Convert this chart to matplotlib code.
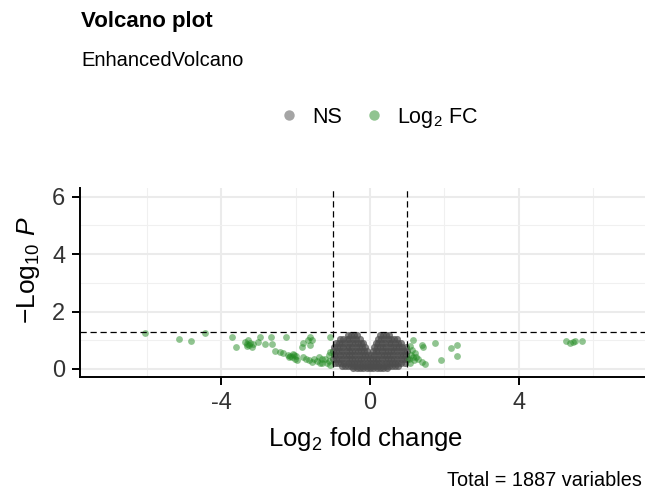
import matplotlib

matplotlib.use("Agg")
import matplotlib.pyplot as plt
from matplotlib.lines import Line2D
from matplotlib.ticker import MultipleLocator

plt.rcParams.update(
    {
        "font.family": ["Liberation Sans", "DejaVu Sans"],
        "mathtext.fontset": "custom",
        "mathtext.rm": "Liberation Sans",
        "mathtext.it": "Liberation Sans:italic",
        "mathtext.bf": "Liberation Sans:bold",
    }
)

# non-significant cloud (y level -> x positions)
ns_row_y = [1.17, 1.05, 0.92, 0.78, 0.64, 0.50, 0.36, 0.22, 0.10, 0.02]
ns_row_x = [
    [-0.58, -0.50, -0.42, -0.35, 0.28, 0.35, 0.43, 0.51],
    [-0.80, -0.72, -0.63, -0.55, -0.46, -0.37, -0.28, 0.21, 0.30, 0.39, 0.48, 0.57, 0.66, 0.74],
    [-0.92, -0.84, -0.75, -0.66, -0.57, -0.49, -0.41, -0.33, -0.25, -0.18,
     0.15, 0.23, 0.32, 0.41, 0.50, 0.58, 0.67, 0.75, 0.84],
    [-0.98, -0.89, -0.80, -0.72, -0.63, -0.55, -0.47, -0.38, -0.30, -0.22, -0.13,
     0.10, 0.19, 0.27, 0.36, 0.44, 0.53, 0.61, 0.70, 0.78, 0.87, 0.96],
    [-0.99, -0.91, -0.82, -0.74, -0.65, -0.57, -0.48, -0.40, -0.31, -0.23, -0.15, -0.07,
     0.07, 0.15, 0.23, 0.32, 0.40, 0.49, 0.57, 0.66, 0.74, 0.83, 0.91, 0.99],
    [-0.98, -0.90, -0.81, -0.73, -0.64, -0.56, -0.47, -0.39, -0.30, -0.22, -0.13, -0.05,
     0.04, 0.12, 0.21, 0.29, 0.38, 0.46, 0.55, 0.63, 0.72, 0.80, 0.89, 0.97],
    [-0.99, -0.91, -0.82, -0.74, -0.65, -0.57, -0.48, -0.40, -0.31, -0.23, -0.15, -0.07, 0.0,
     0.07, 0.15, 0.23, 0.32, 0.40, 0.49, 0.57, 0.66, 0.74, 0.83, 0.91, 0.99],
    [-0.94, -0.86, -0.77, -0.69, -0.60, -0.52, -0.43, -0.35, -0.26, -0.18, -0.09, -0.01,
     0.08, 0.16, 0.25, 0.33, 0.42, 0.50, 0.59, 0.67, 0.76, 0.84, 0.93],
    [-0.76, -0.68, -0.59, -0.51, -0.42, -0.34, -0.25, -0.17, -0.08, 0.0,
     0.08, 0.17, 0.25, 0.34, 0.42, 0.51, 0.59, 0.68, 0.76],
    [-0.45, -0.36, -0.27, -0.18, -0.09, 0.0, 0.09, 0.18, 0.27, 0.36, 0.45],
]

# points passing the fold-change cut-off only
fc_x = [
    -6.04, -5.14, -4.81, -4.43, -3.71, -3.60,
    -3.36, -3.32, -3.28, -3.25, -3.22, -3.18, -3.15, -3.30,
    -2.95, -3.00, -2.82, -2.66, -2.64, -2.55, -2.42, -2.33, -2.25,
    -2.20, -2.14, -2.10, -2.05, -2.02, -2.17, -1.96, -2.08, -2.00,
    -1.83, -1.79, -1.61, -1.57, -1.61, -1.66,
    -1.80, -1.72, -1.65, -1.57, -1.50, -1.42, -1.35, -1.28, -1.30, -1.20, -1.38,
    -1.15, -1.10, -1.07, -1.07, -1.07, -1.10,
    1.16, 1.08, 1.12, 1.10, 1.15, 1.20, 1.18, 1.25, 1.30, 1.05, 1.08,
    1.39, 1.43, 1.74, 1.48, 1.39, 1.92, 2.17, 2.35, 2.35,
    5.28, 5.37, 5.45, 5.53, 5.71,
]
fc_y = [
    1.24, 1.05, 0.97, 1.24, 1.11, 0.77,
    0.95, 0.80, 1.00, 0.85, 0.92, 0.78, 0.88, 0.86,
    1.11, 0.94, 0.88, 1.11, 0.88, 0.62, 0.59, 0.57, 1.11,
    0.50, 0.45, 0.40, 0.48, 0.35, 0.42, 0.32, 0.52, 0.44,
    0.77, 0.90, 1.11, 1.00, 0.83, 1.00,
    0.40, 0.35, 0.30, 0.25, 0.33, 0.28, 0.22, 0.22, 0.35, 0.36, 0.40,
    0.20, 0.28, 0.15, 1.11, 0.59, 0.50,
    1.00, 0.80, 0.65, 0.50, 0.40, 0.55, 0.30, 0.43, 0.35, 0.35, 0.20,
    0.83, 0.77, 0.90, 0.18, 0.23, 0.30, 0.73, 0.85, 0.44,
    0.97, 0.89, 0.94, 0.97, 0.97,
]

p_cutoff = 1.30
fc_cutoff = 1.0

ns_x = [x for row in ns_row_x for x in row]
ns_y = [y for y, row in zip(ns_row_y, ns_row_x) for _ in row]

fig = plt.figure(figsize=(6.45, 4.92), dpi=100)
ax = fig.add_axes([80 / 645, 115 / 492, 565 / 645, 189 / 492])

grey = "#4D4D4D"
green = "#228B22"
# the real cloud holds ~1800 overlapping points, so it renders nearly opaque
ax.scatter(ns_x, ns_y, s=26, color=grey, alpha=0.72, linewidths=0, zorder=3)
ax.scatter(fc_x, fc_y, s=24, color=green, alpha=0.5, linewidths=0, zorder=3)

ax.axhline(p_cutoff, color="black", lw=0.9, ls=(0, (5, 3)), zorder=4)
ax.axvline(-fc_cutoff, color="black", lw=0.9, ls=(0, (5, 3)), zorder=4)
ax.axvline(fc_cutoff, color="black", lw=0.9, ls=(0, (5, 3)), zorder=4)

ax.set_xlim(-7.8, 7.4)
ax.set_ylim(-0.28, 6.3)
ax.xaxis.set_major_locator(MultipleLocator(4))
ax.xaxis.set_minor_locator(MultipleLocator(2))
ax.yaxis.set_major_locator(MultipleLocator(2))
ax.yaxis.set_minor_locator(MultipleLocator(1))
ax.grid(True, which="major", color="#EBEBEB", lw=1.5, zorder=0)
ax.grid(True, which="minor", color="#F0F0F0", lw=0.8, zorder=0)
ax.set_axisbelow(True)

for side in ("top", "right"):
    ax.spines[side].set_visible(False)
for side in ("left", "bottom"):
    ax.spines[side].set_linewidth(1.4)
ax.tick_params(which="major", length=5.5, width=1.4, color="black",
               labelsize=17, labelcolor="#333333", pad=5)
ax.tick_params(which="minor", length=0)
ax.set_xticks([-4, 0, 4], ["-4", "0", "4"])

fig.text(366 / 645, 1 - 439 / 492, r"$\mathrm{Log}_{2}$ fold change",
         ha="center", va="center", fontsize=18.5)
fig.text(28 / 645, 1 - 270 / 492, r"$-\mathrm{Log}_{10}\ \mathit{P}$",
         ha="center", va="center", rotation=90, fontsize=19)

fig.text(81 / 645, 1 - 21 / 492, "Volcano plot", ha="left", va="center",
         fontsize=16, fontweight="bold")
fig.text(81 / 645, 1 - 60 / 492, "EnhancedVolcano", ha="left", va="center",
         fontsize=14.5)
fig.text(642 / 645, 1 - 480 / 492, "Total = 1887 variables", ha="right",
         va="center", fontsize=14.3)

handles = [
    Line2D([], [], ls="", marker="o", ms=7.5, mew=0, color=grey, alpha=0.5),
    Line2D([], [], ls="", marker="o", ms=7.5, mew=0, color=green, alpha=0.5),
]
fig.legend(handles, ["NS", r"$\mathrm{Log}_{2}$ FC"], ncol=2, frameon=False,
           loc="center", bbox_to_anchor=(377 / 645, 1 - 118 / 492),
           fontsize=15.5, handletextpad=0.45, columnspacing=0.9, handlelength=1.2)

fig.savefig("out.png", dpi=100)
